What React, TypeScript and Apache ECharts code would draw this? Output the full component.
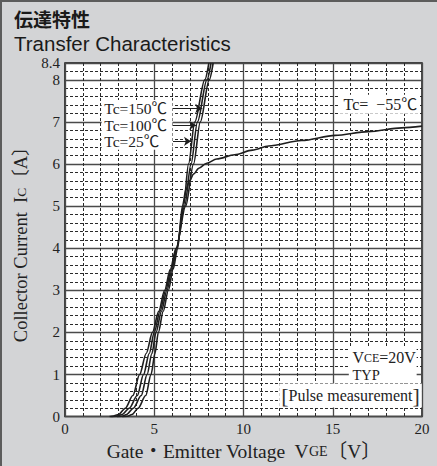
import React, { useEffect, useRef } from "react";
import * as echarts from "echarts";

// ---- data (Gate-Emitter Voltage [V], Collector Current [A]) ----
const xTickValues = [0, 5, 10, 15, 20];
const yTickMax = 8.4;

const tc150: [number, number][] = [
  [2.5, 0], [2.7, 0.01], [3.0, 0.05], [3.38, 0.2], [3.8, 0.5], [4.18, 1.0], [4.55, 1.5],
  [4.9, 2.0], [5.25, 2.5], [5.58, 3.0], [5.9, 3.5], [6.22, 4.0], [6.76, 5.0], [7.2, 6.0],
  [7.58, 7.0], [8.08, 8.0], [8.3, 8.4],
];
const tc100: [number, number][] = [
  [2.6, 0], [2.9, 0.01], [3.2, 0.05], [3.6, 0.2], [4.05, 0.5], [4.4, 1.0], [4.72, 1.5],
  [5.0, 2.0], [5.32, 2.5], [5.64, 3.0], [5.95, 3.5], [6.24, 4.0], [6.7, 5.0], [7.06, 6.0],
  [7.42, 7.0], [7.95, 8.0], [8.18, 8.4],
];
const tc25: [number, number][] = [
  [2.9, 0], [3.2, 0.01], [3.45, 0.05], [3.83, 0.2], [4.27, 0.5], [4.6, 1.0], [4.87, 1.5],
  [5.1, 2.0], [5.4, 2.5], [5.71, 3.0], [6.0, 3.5], [6.27, 4.0], [6.64, 5.0], [6.92, 6.0],
  [7.27, 7.0], [7.83, 8.0], [8.06, 8.4],
];
const tcM55: [number, number][] = [
  [3.2, 0], [3.5, 0.01], [3.75, 0.05], [4.1, 0.2], [4.52, 0.5], [4.82, 1.0], [5.04, 1.5],
  [5.23, 2.0], [5.5, 2.5], [5.79, 3.0], [6.06, 3.5], [6.31, 4.0], [6.58, 5.0], [6.78, 5.4],
  [6.98, 5.6], [7.2, 5.76], [7.5, 5.9], [7.94, 6.02], [8.5, 6.12], [9.5, 6.22], [10.5, 6.33],
  [11.4, 6.43], [13.26, 6.56], [15.13, 6.68], [17.0, 6.77], [18.86, 6.86], [20.0, 6.9],
];

const tcLabels = ["Tc=150℃", "Tc=100℃", "Tc=25℃"];
const arrowY = [7.32, 6.92, 6.54];
const arrowFromX = 6.05;
const arrowToX = [7.69, 7.35, 7.06];

const SERIF = '"Liberation Serif", "Noto Sans CJK JP", serif';
const INK = "#1e1e1e";

export default function App() {
  const ref = useRef<HTMLDivElement>(null);

  useEffect(() => {
    const chart = echarts.init(ref.current!, null, { renderer: "svg" });
    const curveStyle = { color: INK, width: 1.6 };
    const mkSeries = (name: string, data: [number, number][], extra: any = {}) => ({
      name,
      type: "line",
      data,
      showSymbol: false,
      smooth: 0.3,
      smoothMonotone: "x",
      lineStyle: curveStyle,
      itemStyle: { color: INK },
      z: 5,
      ...extra,
    });

    chart.setOption({
      animation: false,
      backgroundColor: "#d3d4d6",
      grid: {
        left: 65, right: 15, top: 63, bottom: 47,
        show: true, backgroundColor: "#ffffff", borderColor: "#111", borderWidth: 1.5,
      },
      xAxis: {
        type: "value", min: 0, max: 20, interval: 5,
        axisLine: { show: false }, axisTick: { show: false },
        splitLine: { show: true, lineStyle: { color: "#4a4a4a", width: 1.3 } },
        minorTick: { show: false, splitNumber: 5 },
        minorSplitLine: { show: true, lineStyle: { color: "#2a2a2a", width: 1, type: [3, 2] } },
        axisLabel: {
          margin: 5, fontFamily: SERIF, fontSize: 15, color: "#222",
          showMinLabel: true, showMaxLabel: true,
          formatter: (v: number) => (xTickValues.includes(v) ? String(v) : ""),
        },
        name: "Gate・Emitter Voltage  V{s|GE}〔V〕",
        nameLocation: "middle", nameGap: 21,
        nameTextStyle: {
          fontFamily: SERIF, fontSize: 19.5, color: "#222",
          rich: { s: { fontFamily: SERIF, fontSize: 14, color: "#222" } },
        },
      },
      yAxis: {
        type: "value", min: 0, max: yTickMax, interval: 1,
        axisLine: { show: false }, axisTick: { show: false },
        splitLine: { show: true, lineStyle: { color: "#4a4a4a", width: 1.3 } },
        minorTick: { show: false, splitNumber: 5 },
        minorSplitLine: { show: true, lineStyle: { color: "#2a2a2a", width: 1, type: [3, 2] } },
        axisLabel: {
          margin: 5, fontFamily: SERIF, fontSize: 15, color: "#222",
          showMinLabel: true, showMaxLabel: true,
        },
        name: "Collector Current  I{s|C}〔A〕",
        nameLocation: "middle", nameGap: 33, nameRotate: 90,
        nameTextStyle: {
          fontFamily: SERIF, fontSize: 18.5, color: "#222",
          rich: { s: { fontFamily: SERIF, fontSize: 13.5, color: "#222" } },
        },
      },
      series: [
        mkSeries("Tc=150℃", tc150),
        mkSeries("Tc=100℃", tc100),
        mkSeries("Tc=25℃", tc25, {
          markLine: {
            silent: true,
            symbol: ["none", "arrow"],
            symbolSize: 7,
            label: { show: false },
            lineStyle: { color: INK, width: 1, type: "solid" },
            emphasis: { disabled: true },
            data: arrowY.map((y, i) => [
              { coord: [arrowFromX, y] },
              { coord: [arrowToX[i], y] },
            ]),
          },
        }),
        mkSeries("Tc=-55℃", tcM55),
      ],
    });

    const px = (x: number, y: number) =>
      chart.convertToPixel({ gridIndex: 0 }, [x, y]) as number[];

    const graphics: any[] = [
      { type: "rect", z: 20, shape: { x: 0, y: 0, width: 2, height: 466 }, style: { fill: "#5c5c5c" } },
      { type: "rect", z: 20, shape: { x: 0, y: 0, width: 437, height: 2 }, style: { fill: "#5c5c5c" } },
      {
        type: "text", z: 20, x: 14, y: 9,
        style: {
          text: "伝達特性", fontFamily: '"Noto Sans CJK JP", sans-serif', fontWeight: "bold",
          fontSize: 19, fill: "#1a1a1a", align: "left", verticalAlign: "top",
        },
      },
      {
        type: "text", z: 20, x: 14, y: 33,
        style: {
          text: "Transfer Characteristics", fontFamily: '"Liberation Sans", Arial, sans-serif',
          fontSize: 20.5, fill: "#1a1a1a", align: "left", verticalAlign: "top",
        },
      },
    ];

    // white area behind the Tc labels
    const w0 = px(2.05, arrowY[0] + 0.2);
    const w1 = px(6.02, arrowY[2] - 0.2);
    graphics.push({
      type: "rect", z: 9,
      shape: { x: w0[0], y: w0[1], width: w1[0] - w0[0], height: w1[1] - w0[1] },
      style: { fill: "#ffffff" },
    });
    tcLabels.forEach((t, i) => {
      const p = px(2.2, arrowY[i]);
      graphics.push({
        type: "text", z: 10, x: p[0], y: p[1],
        style: {
          text: t, fontFamily: SERIF, fontSize: 15.5, fill: "#222",
          align: "left", verticalAlign: "middle",
        },
      });
    });

    // Tc = -55 label
    const pm = px(19.85, 7.42);
    graphics.push({
      type: "text", z: 10, x: pm[0], y: pm[1],
      style: {
        text: "Tc=  −55℃", fontFamily: SERIF, fontSize: 16, fill: "#222",
        align: "right", verticalAlign: "middle",
        backgroundColor: "#ffffff", padding: [2, 2, 1, 5],
      },
    });

    // VCE / TYP box
    const b0 = px(15.9, 1.64);
    const b1 = px(19.7, 0.8);
    graphics.push({
      type: "rect", z: 10,
      shape: { x: b0[0], y: b0[1], width: b1[0] - b0[0], height: b1[1] - b0[1] },
      style: { fill: "#ffffff" },
    });
    const pv = px(16.1, 1.4);
    graphics.push({
      type: "text", z: 11, x: pv[0], y: pv[1],
      style: {
        text: "V{s|CE}=20V", fontFamily: SERIF, fontSize: 16, fill: "#222",
        align: "left", verticalAlign: "middle",
        rich: { s: { fontFamily: SERIF, fontSize: 12, fill: "#222" } },
      },
    });
    const pt = px(16.1, 1.0);
    graphics.push({
      type: "text", z: 11, x: pt[0], y: pt[1],
      style: {
        text: "TYP", fontFamily: SERIF, fontSize: 14.5, fill: "#222",
        align: "left", verticalAlign: "middle",
      },
    });

    // Pulse measurement
    const pp = px(12.0, 0.5);
    graphics.push({
      type: "text", z: 10, x: pp[0], y: pp[1],
      style: {
        text: "{b|[}Pulse measurement{b|]}", fontFamily: SERIF, fontSize: 16, fill: "#222",
        align: "left", verticalAlign: "middle",
        backgroundColor: "#ffffff", padding: [1, 2, 1, 2],
        rich: { b: { fontFamily: SERIF, fontSize: 22, fill: "#333" } },
      },
    });

    chart.setOption({ graphic: graphics });

    return () => chart.dispose();
  }, []);

  return (
    <div
      ref={ref}
      style={{ position: "fixed", left: 0, top: 0, width: 437, height: 466 }}
    />
  );
}
